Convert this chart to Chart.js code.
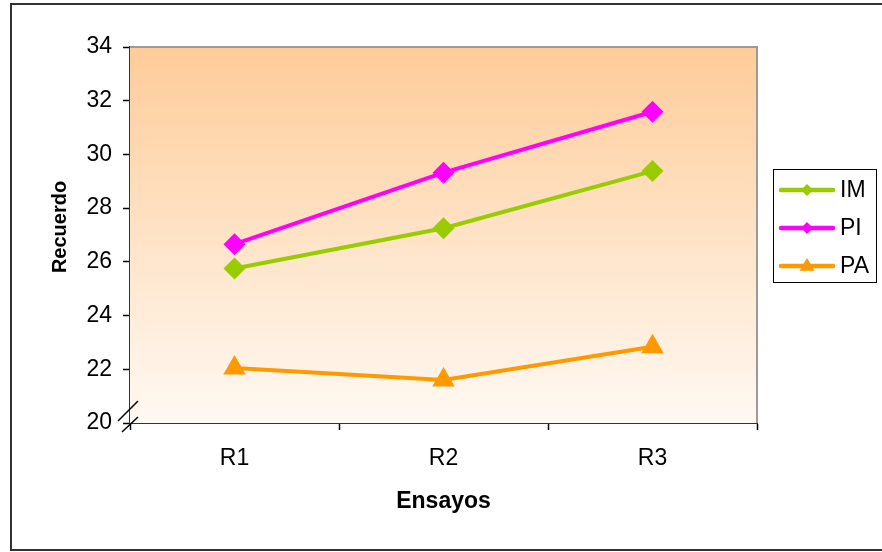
<!DOCTYPE html>
<html>
<head>
<meta charset="utf-8">
<script src="https://cdn.jsdelivr.net/npm/chart.js@4/dist/chart.umd.min.js"></script>
<style>
  html, body { margin: 0; padding: 0; background: #fff; }
  #wrap { width: 882px; height: 552px; position: relative; }
</style>
</head>
<body>
<div id="wrap"><canvas id="c" width="882" height="552"></canvas></div>
<script>
// Recall scores per trial block
const categories = ['R1', 'R2', 'R3'];
const imValues = [25.75, 27.25, 29.38];
const piValues = [26.66, 29.32, 31.59];
const paValues = [22.05, 21.6, 22.84];
const yTicks = [20, 22, 24, 26, 28, 30, 32, 34];
const seriesNames = ['IM', 'PI', 'PA'];
const yTitle = 'Recuerdo';
const xTitle = 'Ensayos';

const FONT = "'Liberation Sans', Arial, sans-serif";

// Peach gradient behind the plot area plus the grey top/right frame
const plotBackground = {
  id: 'plotBackground',
  beforeDatasetsDraw(chart) {
    const { ctx, chartArea: a } = chart;
    ctx.save();
    const g = ctx.createLinearGradient(0, a.top, 0, a.bottom);
    g.addColorStop(0, '#FECC99');
    g.addColorStop(1, '#FFF9F3');
    ctx.fillStyle = g;
    ctx.fillRect(a.left, a.top, a.right - a.left, a.bottom - a.top);
    ctx.strokeStyle = '#9a9a9a';
    ctx.lineWidth = 2;
    ctx.beginPath();
    ctx.moveTo(a.left, a.top);
    ctx.lineTo(a.right, a.top);
    ctx.lineTo(a.right, a.bottom);
    ctx.stroke();
    ctx.restore();
  }
};

function drawMarker(ctx, style, x, y, r, color) {
  ctx.fillStyle = color;
  ctx.beginPath();
  if (style === 'triangle') {
    ctx.moveTo(x, y - r);
    ctx.lineTo(x + r * 0.95, y + r * 0.6);
    ctx.lineTo(x - r * 0.95, y + r * 0.6);
  } else {
    ctx.moveTo(x - r, y);
    ctx.lineTo(x, y - r);
    ctx.lineTo(x + r, y);
    ctx.lineTo(x, y + r);
  }
  ctx.closePath();
  ctx.fill();
}

// Outer frame, value-axis title, axis break marks and the boxed legend
const decorations = {
  id: 'decorations',
  afterDraw(chart) {
    const { ctx, chartArea: a } = chart;
    const y20 = chart.scales.y.getPixelForValue(20);
    ctx.save();
    // outer frame
    ctx.strokeStyle = '#333';
    ctx.lineWidth = 2;
    ctx.strokeRect(11, 4, 880, 546);

    // value-axis title, rotated
    ctx.save();
    ctx.translate(60, 227);
    ctx.rotate(-Math.PI / 2);
    ctx.fillStyle = '#000';
    ctx.font = 'bold 20px ' + FONT;
    ctx.textAlign = 'center';
    ctx.textBaseline = 'middle';
    ctx.fillText(yTitle, 0, 0);
    ctx.restore();

    // axis break on the value axis
    ctx.strokeStyle = '#000';
    ctx.lineWidth = 1.5;
    ctx.beginPath();
    ctx.moveTo(a.left - 12, y20 - 2);
    ctx.lineTo(a.left + 8, y20 - 22);
    ctx.moveTo(a.left - 8, y20 + 9);
    ctx.lineTo(a.left + 8, y20 - 6);
    ctx.stroke();

    // legend
    const lx = 773, ly = 169, lw = 103, lh = 113;
    ctx.fillStyle = '#fff';
    ctx.fillRect(lx, ly, lw, lh);
    ctx.strokeStyle = '#000';
    ctx.lineWidth = 1;
    ctx.strokeRect(lx + 0.5, ly + 0.5, lw, lh);
    ctx.font = '23px ' + FONT;
    ctx.textBaseline = 'middle';
    chart.data.datasets.forEach((ds, i) => {
      const yy = ly + 21 + i * 38;
      ctx.strokeStyle = ds.borderColor;
      ctx.lineWidth = 4.5;
      ctx.lineCap = 'round';
      ctx.beginPath();
      ctx.moveTo(lx + 8, yy);
      ctx.lineTo(lx + 60, yy);
      ctx.stroke();
      drawMarker(ctx, ds.pointStyle, lx + 34, yy, ds.pointStyle === 'triangle' ? 8 : 6, ds.borderColor);
      ctx.fillStyle = '#000';
      ctx.fillText(ds.label, lx + 67, yy + 1);
    });
    ctx.restore();
  }
};

const colors = ['#99CC00', '#FF00FF', '#FF9900'];
const values = [imValues, piValues, paValues];
const styles = ['rectRot', 'rectRot', 'triangle'];
const radii = [11, 11, 13];

const datasets = seriesNames.map((name, i) => ({
  label: name,
  data: values[i],
  borderColor: colors[i],
  backgroundColor: colors[i],
  pointBackgroundColor: colors[i],
  pointBorderColor: colors[i],
  pointBorderWidth: 0,
  pointStyle: styles[i],
  pointRadius: radii[i],
  borderWidth: 4,
  tension: 0,
  fill: false
}));

new Chart(document.getElementById('c'), {
  type: 'line',
  data: { labels: categories, datasets },
  plugins: [plotBackground, decorations],
  options: {
    responsive: false,
    animation: false,
    events: [],
    layout: { padding: { left: 0, top: 47, right: 125, bottom: 0 } },
    plugins: { legend: { display: false }, tooltip: { enabled: false } },
    scales: {
      x: {
        type: 'category',
        offset: true,
        afterFit(s) { s.height = 129; },
        grid: { display: true, drawOnChartArea: false, offset: true, tickLength: 7, tickColor: '#000', tickWidth: 1.5 },
        border: { display: true, color: '#333', width: 2 },
        ticks: { color: '#000', padding: 15, font: { family: FONT, size: 23 } },
        title: { display: true, text: xTitle, color: '#000', padding: { top: 0, bottom: 37 }, font: { family: FONT, size: 23, weight: 'bold' } }
      },
      y: {
        min: 20,
        max: 34,
        afterFit(s) { s.width = 130; },
        afterBuildTicks(s) { s.ticks = yTicks.map(v => ({ value: v })); },
        grid: { display: true, drawOnChartArea: false, tickLength: 7, tickColor: '#000', tickWidth: 1.5 },
        border: { display: true, color: '#333', width: 2 },
        ticks: { color: '#000', padding: 11, font: { family: FONT, size: 23 } },
        title: { display: false }
      }
    }
  }
});
</script>
</body>
</html>
